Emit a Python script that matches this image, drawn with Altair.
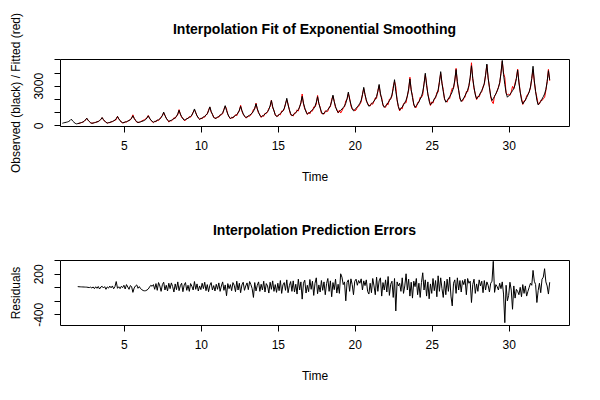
import altair as alt
import pandas as pd

FONT = "Liberation Sans"

# ---- observed series (monthly, Jan..Dec), one list per year, starting at t = 1 ----
obs_y01 = [155, 186, 208, 229, 254, 294, 365, 464, 329, 234, 152, 110]
obs_y02 = [132, 153, 183, 213, 248, 304, 403, 541, 392, 287, 197, 150]
obs_y03 = [172, 194, 225, 256, 291, 348, 449, 590, 430, 317, 220, 170]
obs_y04 = [195, 220, 255, 290, 330, 395, 510, 670, 488, 358, 248, 190]
obs_y05 = [217, 243, 280, 317, 360, 429, 550, 720, 526, 389, 271, 210]
obs_y06 = [236, 261, 297, 332, 373, 440, 557, 720, 538, 408, 298, 240]
obs_y07 = [278, 317, 370, 424, 485, 584, 760, 1005, 737, 547, 385, 300]
obs_y08 = [342, 384, 443, 502, 569, 678, 871, 1140, 859, 659, 489, 400]
obs_y09 = [442, 484, 543, 602, 669, 778, 971, 1240, 944, 733, 554, 460]
obs_y10 = [507, 554, 620, 686, 761, 883, 1099, 1400, 1062, 822, 617, 510]
obs_y11 = [559, 608, 677, 745, 824, 951, 1176, 1490, 1121, 860, 636, 520]
obs_y12 = [566, 612, 676, 741, 814, 934, 1146, 1440, 1117, 888, 692, 590]
obs_y13 = [642, 694, 767, 840, 923, 1058, 1297, 1630, 1254, 987, 759, 640]
obs_y14 = [702, 764, 851, 938, 1037, 1198, 1483, 1880, 1416, 1087, 806, 660]
obs_y15 = [730, 799, 896, 994, 1105, 1286, 1605, 2050, 1545, 1186, 880, 720]
obs_y16 = [794, 868, 972, 1075, 1194, 1386, 1726, 2200, 1687, 1323, 1012, 850]
obs_y17 = [916, 982, 1074, 1167, 1272, 1444, 1748, 2170, 1668, 1312, 1008, 850]
obs_y18 = [922, 994, 1095, 1196, 1311, 1498, 1829, 2290, 1790, 1435, 1133, 975]
obs_y19 = [1052, 1130, 1238, 1346, 1469, 1670, 2026, 2520, 1980, 1597, 1270, 1100]
obs_y20 = [1189, 1278, 1403, 1527, 1670, 1901, 2310, 2880, 2333, 1944, 1613, 1440]
obs_y21 = [1523, 1606, 1722, 1838, 1971, 2187, 2569, 3100, 2439, 1969, 1569, 1360]
obs_y22 = [1465, 1570, 1717, 1864, 2032, 2305, 2788, 3460, 2582, 1959, 1427, 1150]
obs_y23 = [1269, 1387, 1553, 1719, 1908, 2217, 2762, 3520, 2699, 2116, 1619, 1360]
obs_y24 = [1490, 1619, 1800, 1982, 2189, 2526, 3121, 3950, 3038, 2390, 1838, 1550]
obs_y25 = [1676, 1802, 1978, 2155, 2356, 2684, 3264, 4070, 3188, 2562, 2028, 1750]
obs_y26 = [1874, 1998, 2172, 2345, 2544, 2866, 3436, 4230, 3307, 2651, 2092, 1800]
obs_y27 = [1936, 2072, 2262, 2453, 2670, 3024, 3650, 4520, 3562, 2882, 2302, 2000]
obs_y28 = [2133, 2265, 2451, 2636, 2848, 3193, 3802, 4650, 3597, 2850, 2212, 1880]
obs_y29 = [2032, 2184, 2397, 2610, 2853, 3248, 3947, 4920, 3860, 3107, 2465, 2130]
obs_y30 = [2234, 2337, 2482, 2627, 2792, 3062, 3538, 4200, 3220, 2523, 1930, 1620]
obs_y31 = [1763, 1906, 2106, 2306, 2535, 2907, 3565, 4480, 3367, 2576, 1902, 1550]
obs_y32 = [1680, 1809, 1991, 2172, 2380, 2717, 3313, 4143, 3450]

# ---- interpolation prediction errors (residuals), starting at t = 2 ----
res_y02 = [10, 8, 7, 6, 5, 4, 3, 2, -1, -4, 2, -10]
res_y03 = [5, -20, 8, -15, 12, -25, 4, 15, -10, 10, -30, 6]
res_y04 = [-12, 18, -8, 20, -22, 10, 85, -15, 8, -20, 15, -5]
res_y05 = [30, -25, 40, 5, -30, 25, 10, -75, -10, 20, 35, -15]
res_y06 = [10, -20, -35, -48, -52, -50, -40, -25, 5, 30, 15, 40]
res_y07 = [-30, 55, -45, 70, 20, -60, 40, 75, -40, 30, -55, 60]
res_y08 = [-20, 65, 10, -70, 50, -35, 80, -50, 25, 60, -65, 35]
res_y09 = [70, -45, 30, -60, 55, 15, -40, 85, -30, 50, -55, 20]
res_y10 = [-35, 60, -20, 75, -50, 40, -65, 30, 70, -40, 25, -55]
res_y11 = [45, -30, 65, -60, 20, 80, -45, 35, -125, 55, -20, 40]
res_y12 = [-50, 70, 30, -65, 90, -40, 60, -80, 35, 75, -45, 20]
res_y13 = [65, -35, 85, 40, -20, -150, 70, -55, 30, 80, -60, 45]
res_y14 = [-40, 90, -70, 55, 20, -85, 75, -30, 95, -60, 40, -75]
res_y15 = [60, -50, 100, -90, 35, 70, -45, 110, -80, 25, 85, -60]
res_y16 = [95, -70, 45, -100, 120, -40, 80, -175, 60, 105, -85, 30]
res_y17 = [-65, 115, -30, 90, -120, 60, 140, -95, 35, -70, 100, -45]
res_y18 = [80, -110, 55, 130, -60, 95, -140, 70, -35, 120, -85, 45]
res_y19 = [-90, 200, 150, 40, 80, -200, 75, 110, -60, 125, 40, -110]
res_y20 = [90, 120, 30, 100, 60, 125, -40, 95, 25, 110, -60, -100]
res_y21 = [60, -80, 130, 20, -110, 150, -60, 95, 140, -130, 70, -40]
res_y22 = [110, -70, 160, -120, 45, 90, -150, 130, -350, 80, 20, 60]
res_y23 = [-60, 140, -90, 20, 200, -40, 120, -130, 75, -160, 90, 10]
res_y24 = [130, -110, 60, -150, 70, 215, -40, 110, -130, 80, -170, 50]
res_y25 = [-90, 130, -50, 100, -140, 170, -60, 140, -20, -150, 90, -110]
res_y26 = [120, -60, 150, -130, -275, 60, 110, -90, 140, -40, 100, -70]
res_y27 = [100, 40, 120, -110, 130, 60, 90, -225, 40, 120, -90, 50]
res_y28 = [-60, 110, 20, 90, -80, 100, -40, 80, 30, -70, 60, 90]
res_y29 = [385, -75, 40, 10, -40, 60, -20, 80, -100, -524, 30, -200]
res_y30 = [-120, 75, -40, -325, 20, -160, -30, -60, -110, 0, -140, 40]
res_y31 = [-90, 20, -130, -60, 0, 60, 30, 250, 90, 40, -225, -50]
res_y32 = [60, -80, 120, 150, 275, 80, 20, -100, 75]

observed = (obs_y01 + obs_y02 + obs_y03 + obs_y04 + obs_y05 + obs_y06 + obs_y07 + obs_y08
            + obs_y09 + obs_y10 + obs_y11 + obs_y12 + obs_y13 + obs_y14 + obs_y15 + obs_y16
            + obs_y17 + obs_y18 + obs_y19 + obs_y20 + obs_y21 + obs_y22 + obs_y23 + obs_y24
            + obs_y25 + obs_y26 + obs_y27 + obs_y28 + obs_y29 + obs_y30 + obs_y31 + obs_y32)
residuals = (res_y02 + res_y03 + res_y04 + res_y05 + res_y06 + res_y07 + res_y08 + res_y09
             + res_y10 + res_y11 + res_y12 + res_y13 + res_y14 + res_y15 + res_y16 + res_y17
             + res_y18 + res_y19 + res_y20 + res_y21 + res_y22 + res_y23 + res_y24 + res_y25
             + res_y26 + res_y27 + res_y28 + res_y29 + res_y30 + res_y31 + res_y32)

x_ticks = [5, 10, 15, 20, 25, 30]
top_ticks = [0, 1000, 2000, 3000, 4000, 5000]
bot_ticks = [-400, -200, 0, 200, 400]
top_title = "Interpolation Fit of Exponential Smoothing"
bot_title = "Interpolation Prediction Errors"

time_obs = [1 + i / 12 for i in range(len(observed))]
time_res = [2 + i / 12 for i in range(len(residuals))]
fitted = [observed[12 + i] - r for i, r in enumerate(residuals)]

df_obs = pd.DataFrame({"t": time_obs, "v": observed})
df_fit = pd.DataFrame({"t": time_res, "v": fitted})
df_res = pd.DataFrame({"t": time_res, "v": residuals})

common_axis = dict(grid=False, domain=False, tickSize=6, tickColor="black",
                   labelFont=FONT, titleFont=FONT, labelFontSize=12, titleFontSize=12,
                   titleFontWeight="normal", labelColor="black", titleColor="black",
                   labelOverlap=False, labelFlush=False)

x_scale = alt.Scale(domain=[0.847, 33.92], nice=False, zero=False)
top_scale = alt.Scale(domain=[-53, 5030], nice=False, zero=False)
bot_scale = alt.Scale(domain=[-558, 404], nice=False, zero=False)

x_axis = alt.Axis(values=x_ticks, format="d", title="Time", labelPadding=8,
                  titlePadding=20, **common_axis)


def y_axis(title, ticks, expr):
    return alt.Axis(values=ticks, title=title, labelExpr=expr, labelAngle=270,
                    labelAlign="center", labelBaseline="middle", labelPadding=16,
                    titlePadding=10, **common_axis)


top_y_axis = y_axis("Observed (black) / Fitted (red)", top_ticks,
                    "datum.value == 0 ? '0' : (datum.value == 3000 ? '3000' : '')")
bot_y_axis = y_axis("Residuals", bot_ticks,
                    "datum.value == 200 ? '200' : (datum.value == -400 ? '-400' : '')")


def panel_title(text):
    return alt.Chart(pd.DataFrame({"label": [text]})).mark_text(
        font=FONT, fontSize=14, fontWeight="bold", color="black",
        align="center", baseline="middle",
    ).encode(text="label:N", x=alt.value(254.5), y=alt.value(-29.5))


top = alt.layer(
    alt.Chart(df_fit).mark_line(color="red", strokeWidth=1).encode(
        x=alt.X("t:Q", scale=x_scale, axis=x_axis),
        y=alt.Y("v:Q", scale=top_scale, axis=top_y_axis),
    ),
    alt.Chart(df_obs).mark_line(color="black", strokeWidth=1).encode(
        x=alt.X("t:Q", scale=x_scale, axis=x_axis),
        y=alt.Y("v:Q", scale=top_scale, axis=top_y_axis),
    ),
    panel_title(top_title),
).properties(width=509, height=67)

bottom = alt.layer(
    alt.Chart(df_res).mark_line(color="black", strokeWidth=1).encode(
        x=alt.X("t:Q", scale=x_scale, axis=x_axis),
        y=alt.Y("v:Q", scale=bot_scale, axis=bot_y_axis),
    ),
    panel_title(bot_title),
).properties(width=509, height=65)

chart = alt.vconcat(top, bottom, spacing=134, bounds="flush").properties(
    padding={"left": 0, "top": 3, "right": 5, "bottom": 0},
    background="white",
).configure_view(stroke="black", strokeWidth=1).configure_axis(labelOverlap=False)

chart.save("out.html", embed_options={"renderer": "svg", "actions": False})
